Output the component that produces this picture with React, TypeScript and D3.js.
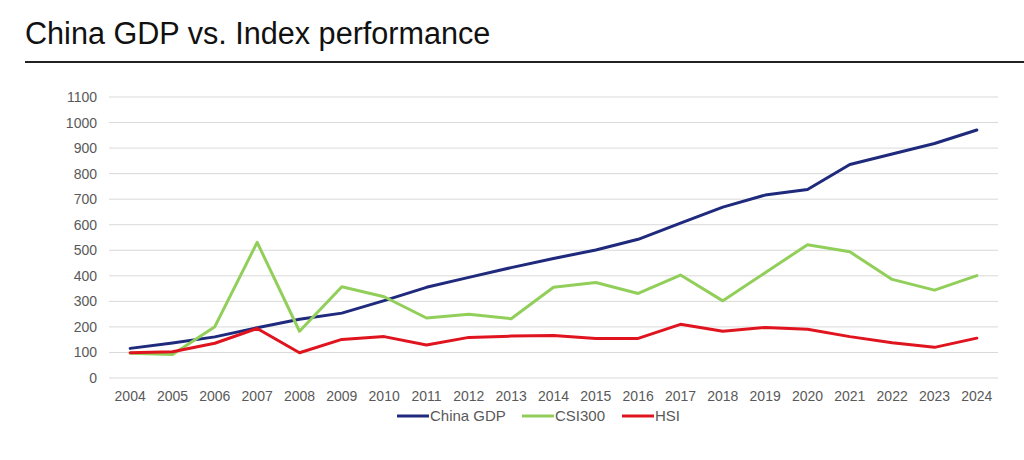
import React from "react";
import * as d3 from "d3";

const years = ["2004","2005","2006","2007","2008","2009","2010","2011","2012","2013","2014","2015","2016","2017","2018","2019","2020","2021","2022","2023","2024"];
const chinaGDP = [116,137,161,197,230,254,303,355,394,432,468,501,543,606,669,716,738,836,877,918,971];
const csi300 = [97,92,201,531,183,357,318,235,250,232,355,374,331,403,302,412,522,494,386,344,401];
const hsi = [99,103,136,194,99,151,162,129,159,164,166,155,155,210,183,198,191,162,138,120,156];
const yTicks = [0,100,200,300,400,500,600,700,800,900,1000,1100];

const series = [
  { name: "China GDP", values: chinaGDP, color: "#1f2a7c" },
  { name: "CSI300", values: csi300, color: "#92cf5a" },
  { name: "HSI", values: hsi, color: "#e0141e" },
];

export default function App() {
  const W = 1024, H = 460;
  const x = d3.scaleBand<string>().domain(years).range([109, 998]);
  const y = d3.scaleLinear().domain([0, 1100]).range([378, 97]);
  const line = (vals: number[]) =>
    d3.line<number>().x((_, i) => (x(years[i]) as number) + x.bandwidth() / 2).y((d) => y(d))(vals) || "";
  const legendX = [397, 522, 622];
  const font = "'Liberation Sans', Arial, sans-serif";
  return (
    <svg width={W} height={H} style={{ position: "absolute", left: 0, top: 0, background: "#fff" }} fontFamily={font}>
      <rect width={W} height={H} fill="#fff" />
      <text x={25} y={44} fontSize={30.6} fill="#111">China GDP vs. Index performance</text>
      <line x1={25} x2={1024} y1={62} y2={62} stroke="#222" strokeWidth={2} />
      {yTicks.map((t) => (
        <g key={t}>
          <line x1={109} x2={998} y1={y(t)} y2={y(t)} stroke="#d9d9d9" strokeWidth={1} />
          <text x={97} y={y(t) + 5} fontSize={14} fill="#595959" textAnchor="end">{t}</text>
        </g>
      ))}
      {years.map((yr) => (
        <text key={yr} x={(x(yr) as number) + x.bandwidth() / 2} y={401} fontSize={14} fill="#595959" textAnchor="middle">{yr}</text>
      ))}
      {series.map((s) => (
        <path key={s.name} d={line(s.values)} fill="none" stroke={s.color} strokeWidth={3} strokeLinejoin="round" strokeLinecap="round" />
      ))}
      {series.map((s, i) => (
        <g key={s.name}>
          <line x1={legendX[i]} x2={legendX[i] + 32} y1={416} y2={416} stroke={s.color} strokeWidth={3} />
          <text x={legendX[i] + 33} y={421} fontSize={15} fill="#595959">{s.name}</text>
        </g>
      ))}
    </svg>
  );
}
